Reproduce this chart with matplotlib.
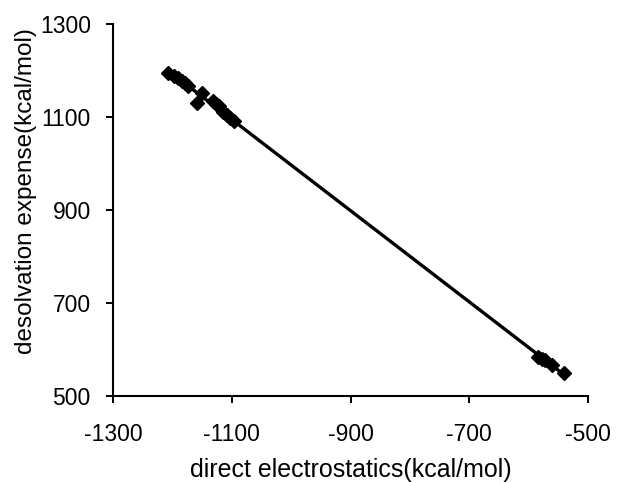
import matplotlib
matplotlib.use('Agg')
import matplotlib.pyplot as plt
import numpy as np

plt.rcParams['font.family'] = ['Liberation Sans', 'DejaVu Sans']
plt.rcParams['axes.unicode_minus'] = False

# direct electrostatics vs desolvation expense (kcal/mol)
direct_elec = [-1207, -1198, -1190, -1184, -1179, -1173, -1151, -1159, -1131, -1126,
               -1122, -1114, -1108, -1103, -1097,
               -584, -578, -572, -561, -541]
desolv_exp = [1195, 1188, 1184, 1178, 1173, 1166, 1152, 1130, 1134, 1128,
              1123, 1112, 1104, 1098, 1091,
              585, 581, 578, 567, 549]

x_ticks = [-1300, -1100, -900, -700, -500]
y_ticks = [500, 700, 900, 1100, 1300]

x = np.array(direct_elec)
y = np.array(desolv_exp)
slope, intercept = np.polyfit(x, y, 1)
x_fit = np.array([x.min(), x.max()])

fig = plt.figure(figsize=(6.21, 4.82), dpi=100)
ax = fig.add_axes([0.182, 0.178, 0.765, 0.772])

ax.plot(x, y, linestyle='none', marker='D', markersize=7.5, color='black')
ax.plot(x_fit, slope * x_fit + intercept, color='black', linewidth=2.4)

ax.set_xlim(-1300, -500)
ax.set_ylim(500, 1300)
ax.set_xticks(x_ticks)
ax.set_yticks(y_ticks)
ax.tick_params(direction='out', length=5, width=1.4, labelsize=16.5)
ax.tick_params(axis='x', pad=14)
ax.tick_params(axis='y', pad=11)

for side in ['top', 'right']:
    ax.spines[side].set_visible(False)
for side in ['left', 'bottom']:
    ax.spines[side].set_linewidth(1.5)

ax.set_xlabel('direct electrostatics(kcal/mol)', fontsize=18, labelpad=9)
ax.set_ylabel('desolvation expense(kcal/mol)', fontsize=17.5, labelpad=2)
ax.yaxis.label.set_y(0.55)

fig.savefig('out.png', dpi=100)
